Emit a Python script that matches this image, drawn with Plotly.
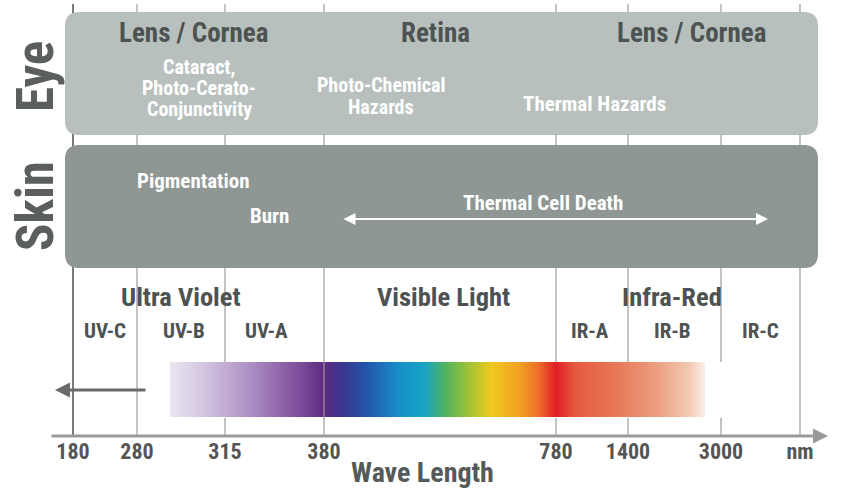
import numpy as np
import plotly.graph_objects as go

# ---------------- data ----------------
boundary_labels = ["180", "280", "315", "380", "780", "1400", "3000", "nm"]
boundary_pos = [73, 137, 225, 324, 556, 628, 721, 800]   # schematic (non-linear) axis positions

eye_regions = ["Lens / Cornea", "Retina", "Lens / Cornea"]
eye_region_x = [194, 435, 692]
eye_hazards = [["Cataract,", "Photo-Cerato-", "Conjunctivity"], ["Photo-Chemical", "Hazards"], ["Thermal Hazards"]]
eye_hazard_x = [199, 381, 594]
eye_hazard_y = [[67, 88, 109], [85, 107], [104]]

skin_effects = ["Pigmentation", "Burn", "Thermal Cell Death"]
skin_effect_x = [193, 269, 543]
skin_effect_y = [181, 216, 203]

bands = ["Ultra Violet", "Visible Light", "Infra-Red"]
band_x = [181, 443, 672]
sub_bands = ["UV-C", "UV-B", "UV-A", "IR-A", "IR-B", "IR-C"]
sub_band_x = [105, 184, 266, 590, 672, 760]

spectrum_pos = [170, 200, 250, 300, 324, 340, 365, 400, 425, 445, 470, 492, 520, 540, 556, 575, 620, 660, 690, 705]
spectrum_col = ["#ebe6f1", "#d6cae3", "#ad8fc4", "#7d4c9a", "#5e2b80", "#3e338c", "#2453a8", "#1690c9",
                "#18a4c4", "#4fb25e", "#a3c334", "#f1c81f", "#f2a022", "#ec6a29", "#e01d26", "#e65a3f",
                "#e87b5b", "#eca283", "#f3cbb5", "#fbefe8"]

FONT = "Roboto, Open Sans, sans-serif"
HEAD = "#4d5352"
GRID = "#9a9a9a"


def cond(t, bold=True):
    inner = f"<b>{t}</b>" if bold else t
    return f"<span style='font-stretch:condensed'>{inner}</span>"


fig = go.Figure()

# spectrum bar
edges = np.linspace(spectrum_pos[0], spectrum_pos[-1], 400)
centers = (edges[:-1] + edges[1:]) / 2
span = spectrum_pos[-1] - spectrum_pos[0]
cscale = [[(p - spectrum_pos[0]) / span, c] for p, c in zip(spectrum_pos, spectrum_col)]
fig.add_trace(go.Heatmap(x=edges, y=[362, 417], z=[centers], zmin=spectrum_pos[0], zmax=spectrum_pos[-1],
                         colorscale=cscale, showscale=False, hoverinfo="skip"))

shapes = []
# vertical boundary lines
for lab, p in zip(boundary_labels, boundary_pos):
    if lab in ("180", "280"):
        segs = [(4, 436)]
    elif lab == "nm":
        segs = [(4, 442)]
    elif lab == "380":
        segs = []
    else:
        segs = [(4, 362), (418, 436)]
    for y0, y1 in segs:
        shapes.append(dict(type="line", x0=p, x1=p, y0=y0, y1=y1, xref="x", yref="y",
                           line=dict(color="#7a7a7a" if lab == "180" else GRID,
                                     width=2 if lab == "180" else 1.2), layer="below"))
p380 = boundary_pos[boundary_labels.index("380")]
shapes.append(dict(type="line", x0=p380, x1=p380, y0=4, y1=436, xref="x", yref="y",
                   line=dict(color=GRID, width=1.2), layer="above"))


def rrect(x0, x1, y0, y1, r):
    return (f"M {x0+r},{y0} L {x1-r},{y0} Q {x1},{y0} {x1},{y0+r} L {x1},{y1-r} "
            f"Q {x1},{y1} {x1-r},{y1} L {x0+r},{y1} Q {x0},{y1} {x0},{y1-r} "
            f"L {x0},{y0+r} Q {x0},{y0} {x0+r},{y0} Z")


shapes.append(dict(type="path", path=rrect(65, 818, 12, 135, 14), xref="x", yref="y",
                   fillcolor="#b8c0bd", line=dict(width=0), layer="above"))
shapes.append(dict(type="path", path=rrect(65, 818, 145, 268, 14), xref="x", yref="y",
                   fillcolor="#8f9794", line=dict(width=0), layer="above"))

ann = []
ann.append(dict(text=cond("Eye"), x=35, y=77, textangle=-90, font=dict(size=51, color="#5a5e5d", family=FONT)))
ann.append(dict(text=cond("Skin"), x=35, y=206, textangle=-90, font=dict(size=51, color="#5a5e5d", family=FONT)))
for t, x in zip(eye_regions, eye_region_x):
    ann.append(dict(text=cond(t), x=x, y=33, font=dict(size=27, color=HEAD, family=FONT)))
for lines, x, ys in zip(eye_hazards, eye_hazard_x, eye_hazard_y):
    for t, y in zip(lines, ys):
        ann.append(dict(text=cond(t), x=x, y=y, font=dict(size=20 if len(lines) > 1 else 21,
                                                           color="white", family=FONT)))
for t, x, y in zip(skin_effects, skin_effect_x, skin_effect_y):
    ann.append(dict(text=cond(t), x=x, y=y, font=dict(size=21, color="white", family=FONT)))
for t, x in zip(bands, band_x):
    ann.append(dict(text=cond(t), x=x, y=296, font=dict(size=26.5, color=HEAD, family=FONT)))
for t, x in zip(sub_bands, sub_band_x):
    ann.append(dict(text=cond(t), x=x, y=331, font=dict(size=21, color=HEAD, family=FONT)))

# thermal cell death double arrow
ann.append(dict(text="", x=768, y=219, ax=342, ay=219, axref="x", ayref="y", showarrow=True,
                arrowhead=2, arrowside="end+start", arrowwidth=2, arrowsize=1.2, arrowcolor="white"))
# left arrow
ann.append(dict(text="", x=55, y=390, ax=147, ay=390, axref="x", ayref="y", showarrow=True,
                arrowhead=2, arrowwidth=3, arrowsize=1, arrowcolor="#6a6a6a"))
# axis arrow
ann.append(dict(text="", x=828, y=436, ax=50, ay=436, axref="x", ayref="y", showarrow=True,
                arrowhead=2, arrowwidth=3, arrowsize=1, arrowcolor="#999999"))

for a in ann:
    a.setdefault("showarrow", False)
    a.setdefault("xref", "x")
    a.setdefault("yref", "y")

fig.update_layout(
    width=845, height=489,
    margin=dict(l=0, r=0, t=0, b=53),
    paper_bgcolor="white", plot_bgcolor="white",
    shapes=shapes, annotations=ann, showlegend=False,
    xaxis=dict(range=[0, 845], tickvals=boundary_pos, ticktext=[cond(t, bold=False) for t in boundary_labels],
               showgrid=False, zeroline=False, showline=False, ticks="",
               tickfont=dict(size=22, color="#555", family=FONT, weight="bold"),
               title=dict(text=cond("Wave Length"), font=dict(size=28, color="#555a59", family=FONT), standoff=0),
               fixedrange=True, automargin=False),
    yaxis=dict(range=[436, 0], visible=False, fixedrange=True),
)
fig.write_html("out.html", config={"displayModeBar": False, "staticPlot": True},
               post_script="document.body.style.margin='0px';")
